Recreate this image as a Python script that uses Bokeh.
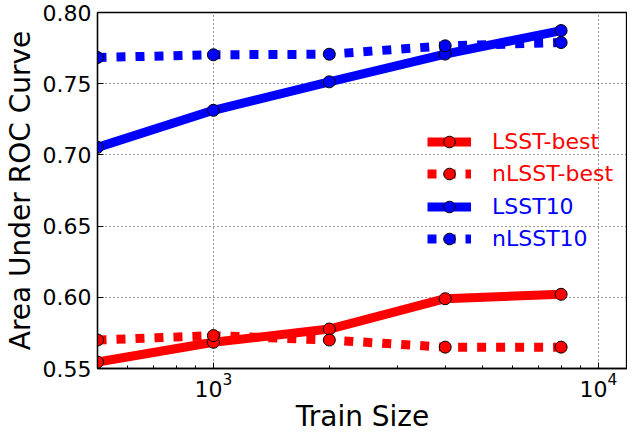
from bokeh.plotting import figure
from bokeh.models import (Range1d, FixedTicker, Legend, LegendItem,
                          PrintfTickFormatter)
from bokeh.embed import file_html
from bokeh.resources import INLINE

# ---- data ----
train_size = [500, 1000, 2000, 4000, 8000]
lsst_best = [0.5545, 0.5684, 0.5777, 0.5990, 0.6021]
nlsst_best = [0.5700, 0.5731, 0.5700, 0.5650, 0.5650]
lsst10 = [0.7053, 0.7313, 0.7513, 0.7708, 0.7873]
nlsst10 = [0.7684, 0.7703, 0.7707, 0.7766, 0.7789]

series_names = ["LSST-best", "nLSST-best", "LSST10", "nLSST10"]
x_ticks = [1000, 10000]
x_minor_ticks = [600, 700, 800, 900, 2000, 3000, 4000, 5000, 6000, 7000, 8000, 9000]
y_ticks = [0.55, 0.60, 0.65, 0.70, 0.75, 0.80]

FONT = "DejaVu Sans"

p = figure(x_axis_type="log", x_range=Range1d(500, 11900), y_range=Range1d(0.55, 0.80),
           width=627, height=435,
           min_border_left=90, min_border_right=0, min_border_top=12, min_border_bottom=60,
           output_backend="svg", toolbar_location=None)
p.outline_line_color = "black"
p.outline_line_width = 1.3
p.background_fill_color = "white"

xa = p.xaxis[0]
xa.ticker = FixedTicker(ticks=x_ticks, minor_ticks=x_minor_ticks)
xa.axis_label = "Train Size"
ya = p.yaxis[0]
ya.ticker = FixedTicker(ticks=y_ticks)
ya.formatter = PrintfTickFormatter(format="%.2f")
ya.axis_label = "Area Under ROC Curve"

for ax in (xa, ya):
    ax.axis_line_color = "black"
    ax.axis_line_width = 1.3
    ax.major_tick_in = 6
    ax.major_tick_out = 0
    ax.minor_tick_in = 3
    ax.minor_tick_out = 0
    ax.major_tick_line_color = "black"
    ax.minor_tick_line_color = "black"
    ax.major_label_text_font = FONT
    ax.major_label_text_font_size = "22px"
    ax.major_label_text_color = "black"
    ax.axis_label_text_font = FONT
    ax.axis_label_text_font_size = "28px"
    ax.axis_label_text_font_style = "normal"
    ax.axis_label_text_color = "black"
ya.minor_tick_line_color = None
ya.major_label_standoff = 6
ya.axis_label_standoff = 3
xa.major_label_standoff = 4
xa.axis_label_standoff = 0

for g in (p.xgrid[0], p.ygrid[0]):
    g.grid_line_color = "black"
    g.grid_line_dash = "1 3"
    g.grid_line_width = 1
    g.grid_line_alpha = 0.8
p.xgrid[0].ticker = FixedTicker(ticks=x_ticks)
p.ygrid[0].ticker = FixedTicker(ticks=y_ticks)

series = [
    (lsst_best, series_names[0], "#ff0000", "solid"),
    (nlsst_best, series_names[1], "#ff0000", "9 10"),
    (lsst10, series_names[2], "#0000ff", "solid"),
    (nlsst10, series_names[3], "#0000ff", "9 10"),
]

items = []
for ys, name, color, dash in series:
    lr = p.line(train_size, ys, line_color=color, line_width=9, line_dash=dash,
                line_cap="butt", line_join="round")
    sr = p.scatter(train_size, ys, marker="circle", size=12, fill_color=color,
                   line_color="black", line_width=1)
    items.append(LegendItem(label=name, renderers=[lr, sr]))

def make_legend(its, color, loc):
    return Legend(items=its, location=loc, orientation="vertical",
                  glyph_width=44, glyph_height=29, label_height=29, spacing=3,
                  label_standoff=21, padding=0, margin=0,
                  border_line_color=None, background_fill_alpha=0,
                  label_text_color=color, label_text_font=FONT,
                  label_text_font_size="22px")

p.add_layout(make_legend(items[:2], "#ff0000", (330, 180)))
p.add_layout(make_legend(items[2:], "#0000ff", (330, 115)))

open("out.html", "w").write(file_html(p, INLINE))
